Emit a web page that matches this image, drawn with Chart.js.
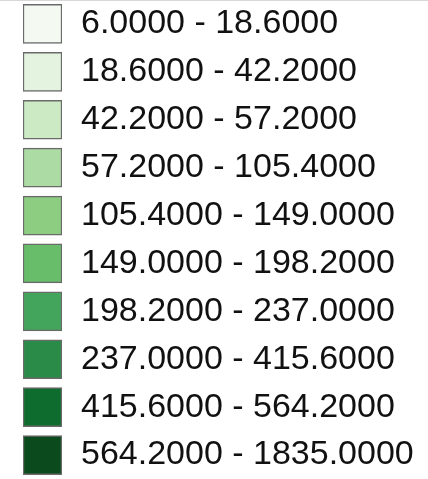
<!DOCTYPE html>
<html>
<head>
<meta charset="utf-8">
<script src="https://cdn.jsdelivr.net/npm/chart.js@4/dist/chart.umd.min.js"></script>
<style>
  html, body { margin: 0; padding: 0; background: #fff; }
  #wrap { position: relative; width: 428px; height: 479px; }
  #topline { position: absolute; left: 0; top: 0; width: 428px; height: 1px; background: #d8d8d8; }
</style>
</head>
<body>
<div id="wrap">
  <canvas id="chart" width="428" height="479"></canvas>
  <div id="topline"></div>
</div>
<script>
// class breaks of the legend
const lowerBounds = [6.0, 18.6, 42.2, 57.2, 105.4, 149.0, 198.2, 237.0, 415.6, 564.2]
const upperBounds = [18.6, 42.2, 57.2, 105.4, 149.0, 198.2, 237.0, 415.6, 564.2, 1835.0]
const classColors = ['#f4faf1', '#e4f3df', '#cceac4', '#acdca4', '#8ccd82',
                     '#68bd6b', '#43a55b', '#2a8a48', '#0e6d2e', '#0a4a1d']
// every swatch is a full-width box
const swatch = [1, 1, 1, 1, 1, 1, 1, 1, 1, 1]

const labels = lowerBounds.map((lo, i) => lo.toFixed(4) + ' - ' + upperBounds[i].toFixed(4))

document.addEventListener("DOMContentLoaded", function() {
  let ctx = document.getElementById('chart')
  new Chart(ctx, {
    type: 'bar',
    data: {
      labels: labels,
      datasets: [{
        data: swatch,
        backgroundColor: classColors,
        borderColor: '#6a6a6a',
        borderWidth: 1.5,
        borderSkipped: false,
        barThickness: 39
      }]
    },
    options: {
      indexAxis: 'y',
      responsive: false,
      animation: false,
      layout: { padding: { left: 23, right: 0, top: 0, bottom: 0 } },
      plugins: { legend: { display: false }, tooltip: { enabled: false } },
      scales: {
        x: { min: 0, max: 1, display: false },
        y: {
          position: 'right',
          grid: { display: false, drawTicks: false },
          border: { display: false },
          ticks: {
            crossAlign: 'near',
            padding: 19,
            color: '#111',
            font: { family: '"Liberation Sans", Arial, Helvetica, sans-serif', size: 34 }
          },
          afterFit: function(scale) {
            scale.width = 366
            scale.paddingTop = 0
            scale.paddingBottom = 0
          }
        }
      }
    }
  })
})
</script>
</body>
</html>
